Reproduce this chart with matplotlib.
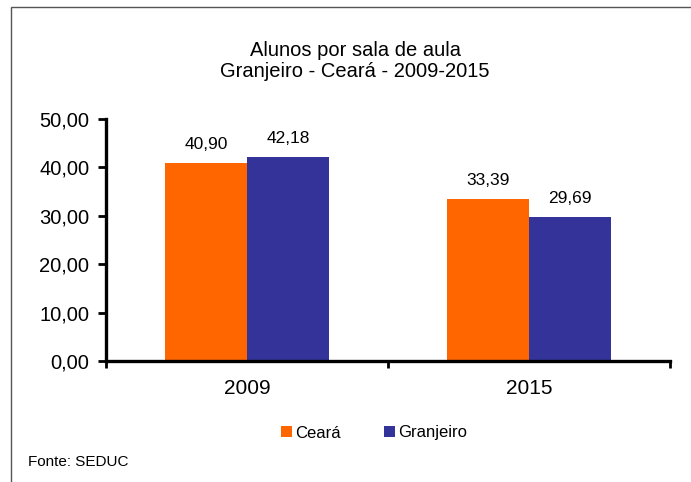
import numpy as np
import matplotlib.pyplot as plt
from matplotlib.patches import Rectangle

plt.rcParams['font.family'] = ['Liberation Sans', 'DejaVu Sans']

anos = ['2009', '2015']
ceara = [40.90, 33.39]
granjeiro = [42.18, 29.69]
yticks = [0, 10, 20, 30, 40, 50]

cor_ceara = '#FF6600'
cor_granjeiro = '#333399'

fig = plt.figure(figsize=(6.91, 4.82), dpi=100)
ax = fig.add_axes([106 / 691, 1 - 361 / 482, 564 / 691, 242 / 482])

# moldura do grafico
fig.patches.append(Rectangle((11 / 691, -0.1), 1.1, 475 / 482 + 0.1, transform=fig.transFigure,
                             fill=False, edgecolor='#555555', linewidth=1))

x = np.arange(len(anos))
w = 0.29
b1 = ax.bar(x - w / 2, ceara, w, color=cor_ceara, label='Ceará')
b2 = ax.bar(x + w / 2, granjeiro, w, color=cor_granjeiro, label='Granjeiro')

for bars, vals in ((b1, ceara), (b2, granjeiro)):
    for r, v in zip(bars, vals):
        ax.annotate(f'{v:.2f}'.replace('.', ','), (r.get_x() + r.get_width() / 2, v),
                    xytext=(0, 8), textcoords='offset points', ha='center', va='bottom', fontsize=12.5)

ax.set_xlim(-0.5, 1.5)
ax.set_ylim(0, 50)
ax.set_yticks(yticks)
ax.set_yticklabels([f'{t:.2f}'.replace('.', ',') for t in yticks], fontsize=14.5)
ax.set_xticks(x)
ax.set_xticklabels(anos, fontsize=15)
ax.tick_params(axis='x', length=0, pad=13)
ax.set_xticks([-0.5, 0.5, 1.5], minor=True)
ax.tick_params(axis='x', which='minor', length=5, width=2, direction='out')
ax.tick_params(axis='y', length=6, width=2, pad=6)

for s in ['top', 'right']:
    ax.spines[s].set_visible(False)
for s in ['left', 'bottom']:
    ax.spines[s].set_linewidth(2.4)

fig.text(355 / 691, 1 - 61 / 482, 'Alunos por sala de aula\nGranjeiro - Ceará - 2009-2015',
         ha='center', va='center', fontsize=14.5, linespacing=1.15)

fig.legend(handles=[b1, b2], loc='center', bbox_to_anchor=(374 / 691, 1 - 433 / 482), ncol=2,
           frameon=False, fontsize=12, handlelength=0.65, handleheight=0.65, handletextpad=0.2,
           columnspacing=2.6)

fig.text(28 / 691, 1 - 462 / 482, 'Fonte: SEDUC', fontsize=11, va='center')

fig.savefig('out.png', dpi=100)
